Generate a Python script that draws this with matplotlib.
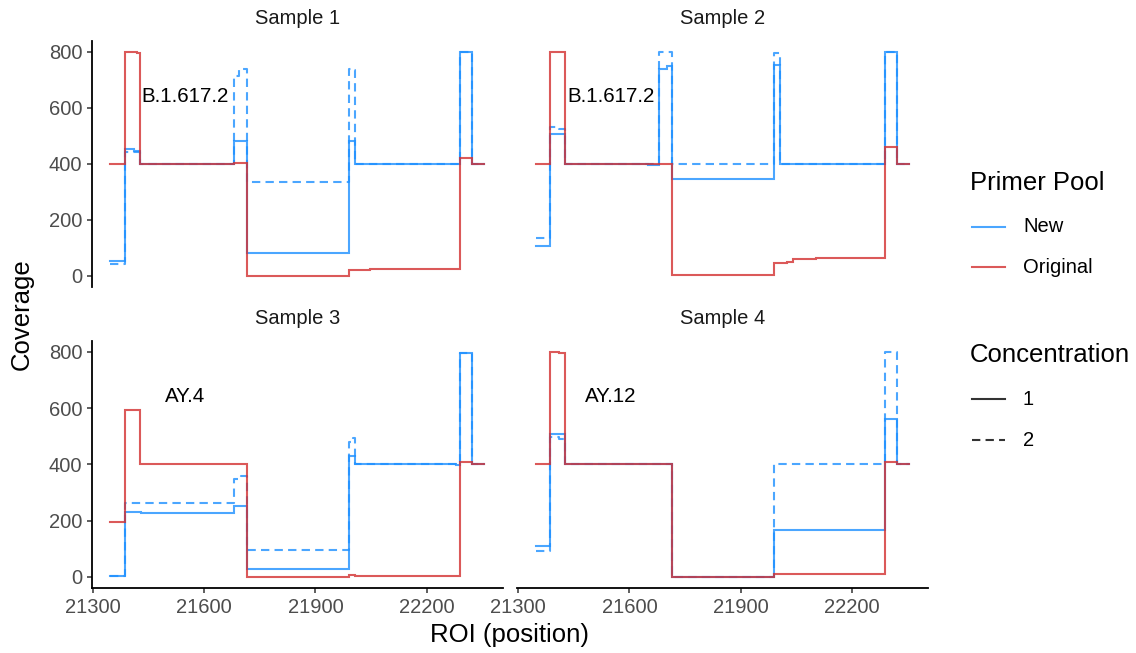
import matplotlib
matplotlib.use("Agg")
import matplotlib.pyplot as plt
from matplotlib.lines import Line2D

plt.rcParams['font.family'] = ['Liberation Sans', 'DejaVu Sans']

# ---------------- data ----------------
samples = ["Sample 1", "Sample 2", "Sample 3", "Sample 4"]
lineages = ["B.1.617.2", "B.1.617.2", "AY.4", "AY.12"]
label_x = 21550
label_y = 640

# Sample 1
s1_orig_x = [21347, 21386, 21420, 21426, 21680, 21716, 21990, 22047, 22289, 22323, 22355]
s1_orig_y = [400, 800, 796, 400, 402, 0, 21, 25, 420, 400, 400]
s1_new1_x = [21347, 21386, 21410, 21426, 21680, 21716, 21990, 22007, 22289, 22323, 22355]
s1_new1_y = [52, 452, 447, 400, 480, 81, 482, 400, 800, 400, 400]
s1_new2_x = [21347, 21386, 21426, 21680, 21695, 21716, 21990, 21998, 22007, 22289, 22323, 22355]
s1_new2_y = [40, 442, 400, 715, 737, 335, 740, 735, 400, 800, 400, 400]

# Sample 2
s2_orig_x = [21347, 21386, 21426, 21680, 21716, 21990, 22012, 22025, 22041, 22104, 22289, 22323, 22355]
s2_orig_y = [400, 800, 400, 398, 3, 46, 43, 48, 58, 62, 460, 400, 400]
s2_new1_x = [21347, 21386, 21426, 21650, 21680, 21700, 21716, 21990, 22007, 22289, 22323, 22355]
s2_new1_y = [107, 508, 400, 396, 738, 750, 347, 752, 400, 800, 400, 400]
s2_new2_x = [21347, 21386, 21410, 21426, 21680, 21716, 21990, 22007, 22289, 22323, 22355]
s2_new2_y = [133, 530, 525, 400, 800, 398, 795, 400, 800, 400, 400]

# Sample 3
s3_orig_x = [21347, 21386, 21426, 21680, 21716, 21990, 22007, 22289, 22323, 22355]
s3_orig_y = [195, 592, 400, 402, 0, 7, 4, 408, 400, 400]
s3_new1_x = [21347, 21386, 21430, 21680, 21716, 21990, 22007, 22280, 22289, 22323, 22355]
s3_new1_y = [2, 230, 227, 253, 27, 428, 400, 397, 797, 400, 400]
s3_new2_x = [21347, 21386, 21680, 21700, 21716, 21990, 22000, 22007, 22289, 22323, 22355]
s3_new2_y = [2, 263, 348, 357, 94, 478, 495, 400, 797, 400, 400]

# Sample 4
s4_orig_x = [21347, 21386, 21410, 21426, 21716, 21990, 22289, 22323, 22355]
s4_orig_y = [400, 800, 796, 400, 0, 10, 410, 400, 400]
s4_new1_x = [21347, 21386, 21426, 21716, 21990, 22289, 22323, 22355]
s4_new1_y = [108, 509, 400, 0, 165, 562, 400, 400]
s4_new2_x = [21347, 21386, 21410, 21426, 21716, 21990, 22289, 22323, 22355]
s4_new2_y = [92, 498, 490, 400, 0, 400, 800, 400, 400]

series = [
    [(s1_new1_x, s1_new1_y, "New", "1"), (s1_new2_x, s1_new2_y, "New", "2"), (s1_orig_x, s1_orig_y, "Original", "1")],
    [(s2_new1_x, s2_new1_y, "New", "1"), (s2_new2_x, s2_new2_y, "New", "2"), (s2_orig_x, s2_orig_y, "Original", "1")],
    [(s3_new1_x, s3_new1_y, "New", "1"), (s3_new2_x, s3_new2_y, "New", "2"), (s3_orig_x, s3_orig_y, "Original", "1")],
    [(s4_new1_x, s4_new1_y, "New", "1"), (s4_new2_x, s4_new2_y, "New", "2"), (s4_orig_x, s4_orig_y, "Original", "1")],
]

x_ticks = [21300, 21600, 21900, 22200]
y_ticks = [0, 200, 400, 600, 800]

pool_colors = {"New": "#1E90FF", "Original": "#D32F2F"}
conc_styles = {"1": "-", "2": (0, (4, 2.5))}

# ---------------- figure ----------------
W, H = 1136, 653
fig = plt.figure(figsize=(W / 100, H / 100), dpi=100)

def fx(px):
    return px / W

def fy(py):
    return 1 - py / H

panel_x = [(91.5, 503), (517, 928)]
panel_y = [(40.7, 286.7), (340.7, 588)]

all_x = [v for s in series for t in s for v in t[0]]
xmin, xmax = min(all_x), max(all_x)
xr = xmax - xmin
xlim = (xmin - 0.05 * xr, xmax + 0.05 * xr)
ylim = (0 - 0.05 * 800, 800 + 0.05 * 800)

tick_color = "#333333"
lab_color = "#4D4D4D"
small = 14.5

for i in range(4):
    r, c = divmod(i, 2)
    x0, x1 = panel_x[c]
    ytop, ybot = panel_y[r]
    ax = fig.add_axes([fx(x0), fy(ybot), fx(x1) - fx(x0), fy(ytop) - fy(ybot)])
    for xs, ys, pool, conc in series[i]:
        ax.plot(xs, ys, drawstyle="steps-post", color=pool_colors[pool],
                linestyle=conc_styles[conc], lw=1.5, alpha=0.8,
                solid_joinstyle="miter")
    ax.text(label_x, label_y, lineages[i], fontsize=14.8, color="black",
            ha="center", va="center")
    ax.set_xlim(xlim)
    ax.set_ylim(ylim)
    ax.set_xticks(x_ticks)
    ax.set_yticks(y_ticks)
    for s in ["top", "right"]:
        ax.spines[s].set_visible(False)
    ax.spines["left"].set_visible(c == 0)
    ax.spines["bottom"].set_visible(r == 1)
    for s in ["left", "bottom"]:
        ax.spines[s].set_linewidth(1.3)
        ax.spines[s].set_color("black")
    ax.tick_params(axis="x", bottom=(r == 1), labelbottom=(r == 1),
                   length=3.6, width=1.1, color=tick_color,
                   labelsize=small, labelcolor=lab_color, pad=3.5)
    ax.tick_params(axis="y", left=(c == 0), labelleft=(c == 0),
                   length=3.6, width=1.1, color=tick_color,
                   labelsize=small, labelcolor=lab_color, pad=3.0)
    ax.patch.set_alpha(0)
    # strip text
    fig.text(fx((x0 + x1) / 2), fy(ytop - 22), samples[i], fontsize=small,
             color="#1A1A1A", ha="center", va="center")

# axis titles
fig.text(fx(22), fy((40.7 + 588) / 2), "Coverage", rotation=90, fontsize=18.5,
         ha="center", va="center", color="black")
fig.text(fx((91.5 + 928) / 2), fy(635), "ROI (position)", fontsize=18.5,
         ha="center", va="center", color="black")

# legends
def leg_line(y, color, ls, alpha=1.0):
    fig.add_artist(Line2D([fx(972), fx(1005)], [fy(y), fy(y)], transform=fig.transFigure,
                          color=color, linestyle=ls, lw=1.5, alpha=alpha))

fig.text(fx(970), fy(182.7), "Primer Pool", fontsize=18.5, ha="left", va="center")
leg_line(226.7, pool_colors["New"], "-", 0.8)
fig.text(fx(1023), fy(226.7), "New", fontsize=small, ha="left", va="center")
leg_line(267.3, pool_colors["Original"], "-", 0.8)
fig.text(fx(1023), fy(267.3), "Original", fontsize=small, ha="left", va="center")

fig.text(fx(970), fy(355), "Concentration", fontsize=18.5, ha="left", va="center")
leg_line(399.3, "#333333", conc_styles["1"])
fig.text(fx(1023), fy(399.3), "1", fontsize=small, ha="left", va="center")
leg_line(440, "#333333", conc_styles["2"])
fig.text(fx(1023), fy(440), "2", fontsize=small, ha="left", va="center")

fig.savefig("out.png", dpi=100)
